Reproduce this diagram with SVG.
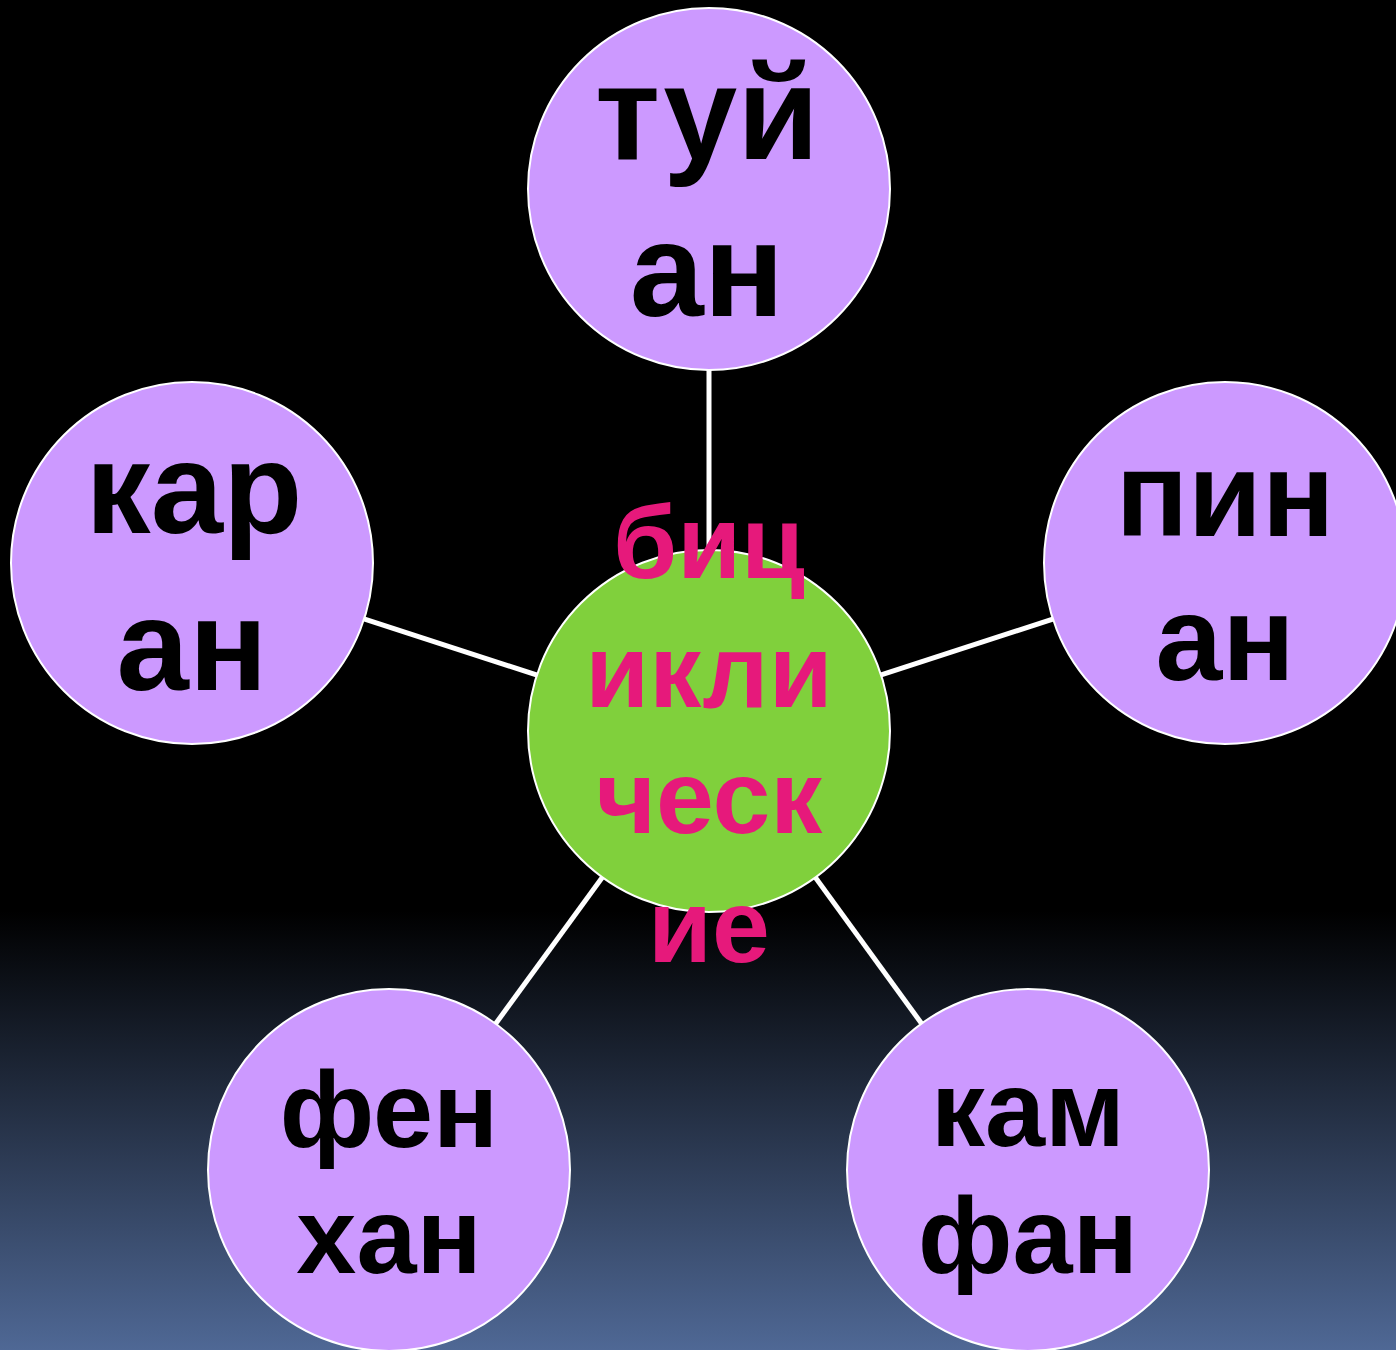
<svg xmlns="http://www.w3.org/2000/svg" width="1396" height="1350" viewBox="0 0 1396 1350">
<defs>
<linearGradient id="bg" x1="0" y1="0" x2="0" y2="1350" gradientUnits="userSpaceOnUse">
<stop offset="0" stop-color="#000000"/>
<stop offset="0.675" stop-color="#000000"/>
<stop offset="1" stop-color="#4f6895"/>
</linearGradient>
<style>
.sat{fill:#cc99ff;stroke:#ffffff;stroke-width:2}
.hub{fill:#80d03c;stroke:#ffffff;stroke-width:2}
.lbl{font-family:"Liberation Sans",Arial,sans-serif;font-weight:bold;fill:#000000;text-anchor:middle}
.hubl{font-family:"Liberation Sans",Arial,sans-serif;font-weight:bold;fill:#e6197b;text-anchor:middle;font-size:104px}
.conn line{stroke:#ffffff;stroke-width:5}
</style>
</defs>
<rect width="1396" height="1350" fill="url(#bg)"/>
<g id="connectors" class="conn">
<line x1="709" y1="731" x2="709" y2="189"/>
<line x1="709" y1="731" x2="192" y2="563"/>
<line x1="709" y1="731" x2="1225" y2="563"/>
<line x1="709" y1="731" x2="389" y2="1170"/>
<line x1="709" y1="731" x2="1028" y2="1170"/>
</g>
<g id="node-top">
<circle class="sat" cx="709" cy="189" r="181"/>
<text class="lbl" font-size="133" x="707" y="159">туй</text>
<text class="lbl" font-size="133" x="707" y="316">ан</text>
</g>
<g id="node-left">
<circle class="sat" cx="192" cy="563" r="181"/>
<text class="lbl" font-size="130" x="194" y="533">кар</text>
<text class="lbl" font-size="130" x="192" y="690">ан</text>
</g>
<g id="node-right">
<circle class="sat" cx="1225" cy="563" r="181"/>
<text class="lbl" font-size="120" x="1225" y="536">пин</text>
<text class="lbl" font-size="120" x="1225" y="680">ан</text>
</g>
<g id="node-bottom-left">
<circle class="sat" cx="389" cy="1170" r="181"/>
<text class="lbl" font-size="108" x="389" y="1147">фен</text>
<text class="lbl" font-size="108" x="389" y="1273">хан</text>
</g>
<g id="node-bottom-right">
<circle class="sat" cx="1028" cy="1170" r="181"/>
<text class="lbl" font-size="108" x="1028" y="1146">кам</text>
<text class="lbl" font-size="108" x="1028" y="1273">фан</text>
</g>
<g id="node-center">
<circle class="hub" cx="709" cy="731" r="181"/>
<text class="hubl" x="709" y="578">биц</text>
<text class="hubl" x="709" y="707">икли</text>
<text class="hubl" x="709" y="833">ческ</text>
<text class="hubl" x="709" y="962">ие</text>
</g>
</svg>
